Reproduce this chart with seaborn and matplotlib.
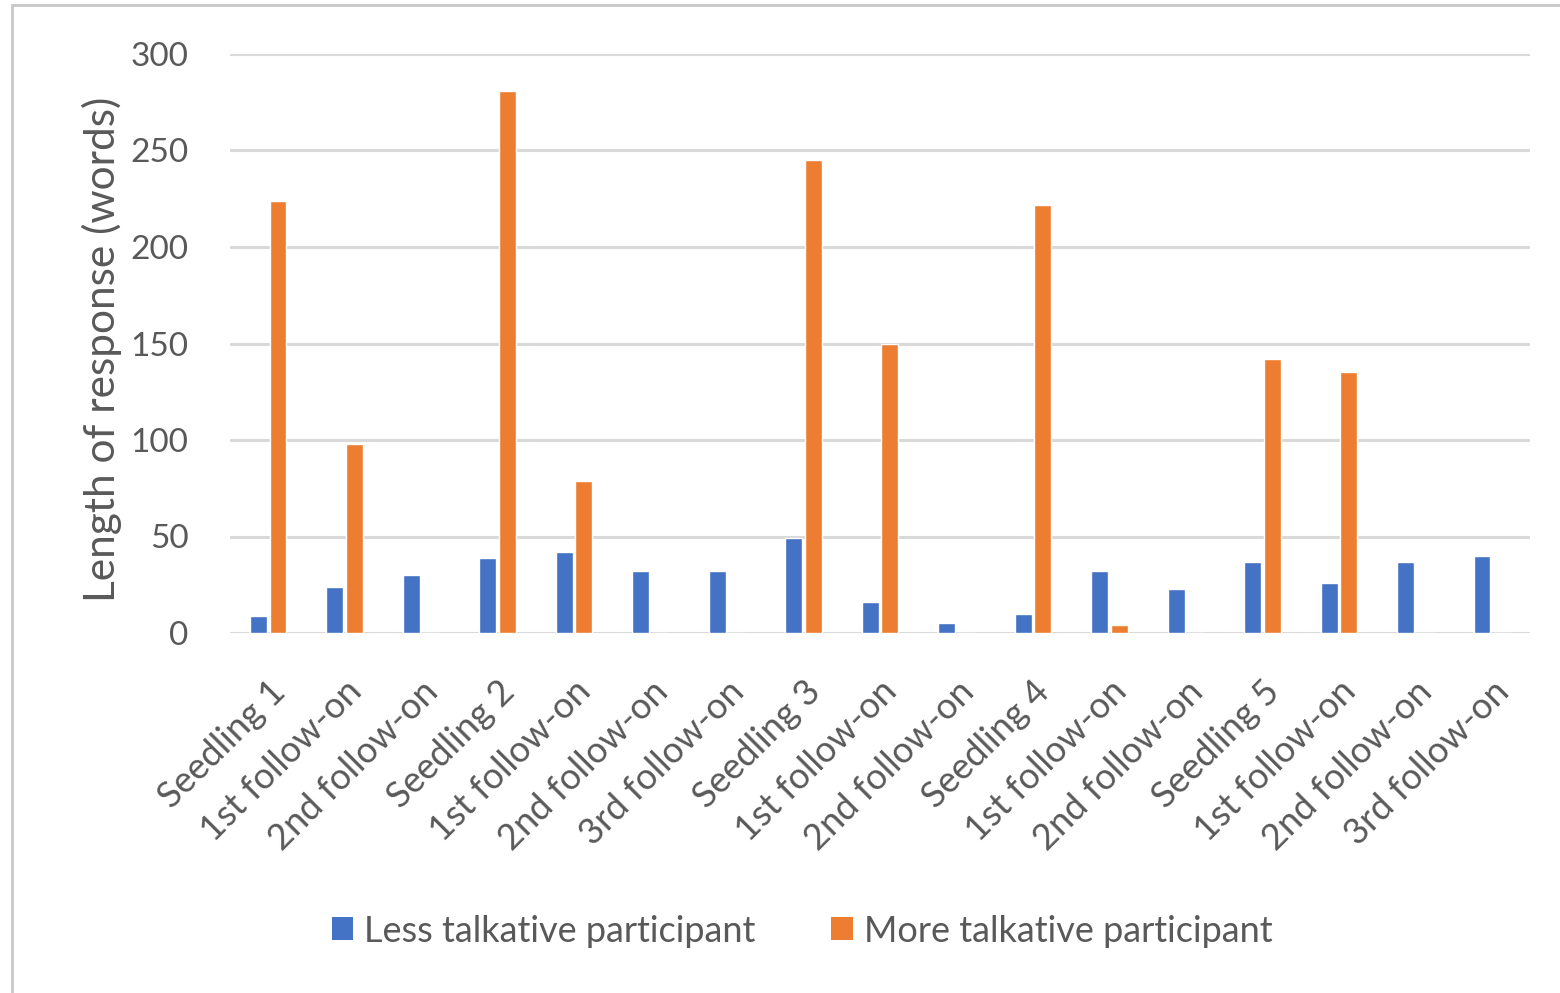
import matplotlib
matplotlib.use('Agg')
import matplotlib.pyplot as plt
from matplotlib.patches import Patch
from matplotlib.lines import Line2D
import seaborn as sns
import pandas as pd

categories = ["Seedling 1", "1st follow-on", "2nd follow-on",
              "Seedling 2", "1st follow-on", "2nd follow-on", "3rd follow-on",
              "Seedling 3", "1st follow-on", "2nd follow-on",
              "Seedling 4", "1st follow-on", "2nd follow-on",
              "Seedling 5", "1st follow-on", "2nd follow-on", "3rd follow-on"]
less_talkative = [9, 24, 30, 39, 42, 32, 32, 49, 16, 5, 10, 32, 23, 37, 26, 37, 40]
more_talkative = [224, 98, 0, 281, 79, 0, 0, 245, 150, 0, 222, 4, 0, 142, 135, 0, 0]
series_names = ["Less talkative participant", "More talkative participant"]
y_ticks = [0, 50, 100, 150, 200, 250, 300]

BLUE = "#4472C4"
ORANGE = "#ED7D31"
TEXT = "#595959"
GRID = "#D9D9D9"

sns.set_theme(style="white")
plt.rcParams['font.family'] = ['Lato', 'DejaVu Sans']

rows = []
for i, c in enumerate(categories):
    rows.append({"idx": i, "series": series_names[0], "value": less_talkative[i]})
    rows.append({"idx": i, "series": series_names[1], "value": more_talkative[i]})
df = pd.DataFrame(rows)

fig = plt.figure(figsize=(15.6, 9.93), dpi=100)
ax = fig.add_axes([230/1560, 1-633/993, 1300/1560, (633-54)/993])

sns.barplot(data=df, x="idx", y="value", hue="series",
            hue_order=series_names, palette=[BLUE, ORANGE],
            width=0.51, gap=0.13, ax=ax, legend=False, saturation=1,
            errorbar=None)

ax.set_ylim(0, 300)
ax.set_xlim(-0.5, len(categories) - 0.5)
ax.set_yticks(y_ticks)
ax.set_yticklabels([str(v) for v in y_ticks], fontsize=24, color=TEXT)
ax.yaxis.grid(True, color=GRID, linewidth=2.2)
ax.set_axisbelow(True)
for s in ax.spines.values():
    s.set_visible(False)
ax.tick_params(axis='y', length=0, pad=30)
ax.tick_params(axis='x', length=0, pad=30)
ax.set_xticks(range(len(categories)))
ax.set_xticklabels(categories, rotation=45, ha='right', rotation_mode='anchor',
                   fontsize=26, color=TEXT)
ax.set_xlabel("")
ax.set_ylabel("Length of response (words)", fontsize=30.5, color=TEXT)
ax.yaxis.set_label_coords(-0.083, 0.49)

handles = [Patch(facecolor=BLUE, edgecolor='none'), Patch(facecolor=ORANGE, edgecolor='none')]
fig.legend(handles, series_names, loc='center', bbox_to_anchor=(802/1560, 1-931/993),
           ncol=2, frameon=False, fontsize=26, labelcolor=TEXT,
           handlelength=0.6, handleheight=0.6, handletextpad=0.3, columnspacing=2.1)

# screenshot border
fig.add_artist(Line2D([12/1560, 12/1560], [0, 1-5/993], color="#C8C8C8", linewidth=2, transform=fig.transFigure))
fig.add_artist(Line2D([12/1560, 1], [1-5/993, 1-5/993], color="#C8C8C8", linewidth=2, transform=fig.transFigure))

fig.savefig("out.png", dpi=100, facecolor="white")
